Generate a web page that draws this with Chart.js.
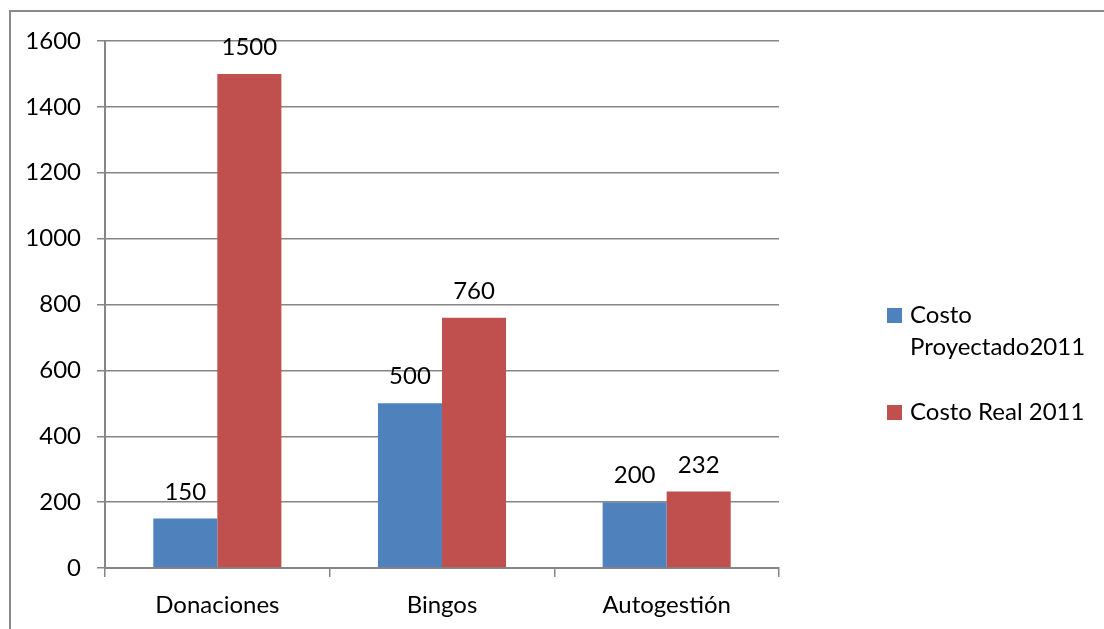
<!DOCTYPE html>
<html>
<head>
<meta charset="utf-8">
<script src="https://cdn.jsdelivr.net/npm/chart.js@4/dist/chart.umd.min.js"></script>
<style>
  html, body { margin: 0; padding: 0; background: #fff; }
  #wrap { position: relative; width: 1104px; height: 629px; }
</style>
</head>
<body>
<div id="wrap"><canvas id="c" width="1104" height="629"></canvas></div>
<script>
const categories = ['Donaciones', 'Bingos', 'Autogestión'];
const projectedCost = [150, 500, 200];
const realCost = [1500, 760, 232];
const seriesNames = ['Costo Proyectado2011', 'Costo Real 2011'];
const seriesColors = ['#4F81BD', '#C0504D'];
const yTicks = [0, 200, 400, 600, 800, 1000, 1200, 1400, 1600];

const FONT = 'Lato, "Open Sans", sans-serif';
const FS = 24;

const frame = {
  id: 'frame',
  beforeDraw(chart) {
    const ctx = chart.ctx;
    ctx.save();
    ctx.fillStyle = '#fff';
    ctx.fillRect(0, 0, chart.width, chart.height);
    ctx.strokeStyle = '#8a8a8a';
    ctx.lineWidth = 2;
    ctx.strokeRect(10, 11, 2000, 2000);
    ctx.restore();
  }
};

const dataLabels = {
  id: 'dataLabels',
  afterDatasetsDraw(chart) {
    const ctx = chart.ctx;
    ctx.save();
    ctx.font = FS + 'px ' + FONT;
    ctx.fillStyle = '#000';
    ctx.textAlign = 'center';
    ctx.textBaseline = 'alphabetic';
    chart.data.datasets.forEach((ds, i) => {
      const meta = chart.getDatasetMeta(i);
      meta.data.forEach((bar, j) => {
        ctx.fillText(String(ds.data[j]), bar.x, bar.y - 19);
      });
    });
    ctx.restore();
  }
};

const sideLegend = {
  id: 'sideLegend',
  afterDraw(chart) {
    const ctx = chart.ctx;
    ctx.save();
    ctx.font = FS + 'px ' + FONT;
    ctx.textAlign = 'left';
    ctx.textBaseline = 'alphabetic';
    const boxX = 887, textX = 910, maxW = 192;
    const itemTops = [308, 405];
    chart.data.datasets.forEach((ds, i) => {
      const top = itemTops[i];
      ctx.fillStyle = ds.backgroundColor;
      ctx.fillRect(boxX, top, 15, 15);
      const words = ds.label.split(' ');
      const lines = [];
      let cur = '';
      words.forEach(w => {
        const t = cur ? cur + ' ' + w : w;
        if (ctx.measureText(t).width > maxW && cur) { lines.push(cur); cur = w; }
        else cur = t;
      });
      if (cur) lines.push(cur);
      ctx.fillStyle = '#000';
      lines.forEach((ln, k) => {
        ctx.fillText(ln, textX, top + 15 + k * 32);
      });
    });
    ctx.restore();
  }
};

new Chart(document.getElementById('c'), {
  type: 'bar',
  data: {
    labels: categories,
    datasets: [
      { label: seriesNames[0], data: projectedCost, backgroundColor: seriesColors[0], borderWidth: 0 },
      { label: seriesNames[1], data: realCost, backgroundColor: seriesColors[1], borderWidth: 0 }
    ]
  },
  options: {
    responsive: false,
    animation: false,
    devicePixelRatio: 1,
    layout: { padding: { left: 0, right: 325, top: 41, bottom: 0 } },
    datasets: { bar: { categoryPercentage: 0.57, barPercentage: 1.0 } },
    plugins: {
      legend: { display: false },
      tooltip: { enabled: false }
    },
    scales: {
      x: {
        grid: { offset: true, drawOnChartArea: false, drawTicks: true, tickLength: 9, color: '#868686', lineWidth: 1.5 },
        border: { display: true, color: '#868686', width: 2 },
        ticks: { font: { family: FONT, size: FS }, color: '#000', padding: 14 },
        afterFit(s) { s.height = 61; }
      },
      y: {
        min: 0, max: 1600,
        afterBuildTicks(s) { s.ticks = yTicks.map(v => ({ value: v })); },
        grid: { color: '#868686', lineWidth: 1.5, tickLength: 8, drawTicks: true },
        border: { display: true, color: '#868686', width: 2 },
        ticks: { font: { family: FONT, size: FS }, color: '#000', padding: 16, callback: v => String(v) },
        afterFit(s) { s.width = 105; }
      }
    }
  },
  plugins: [frame, dataLabels, sideLegend]
});
</script>
</body>
</html>
